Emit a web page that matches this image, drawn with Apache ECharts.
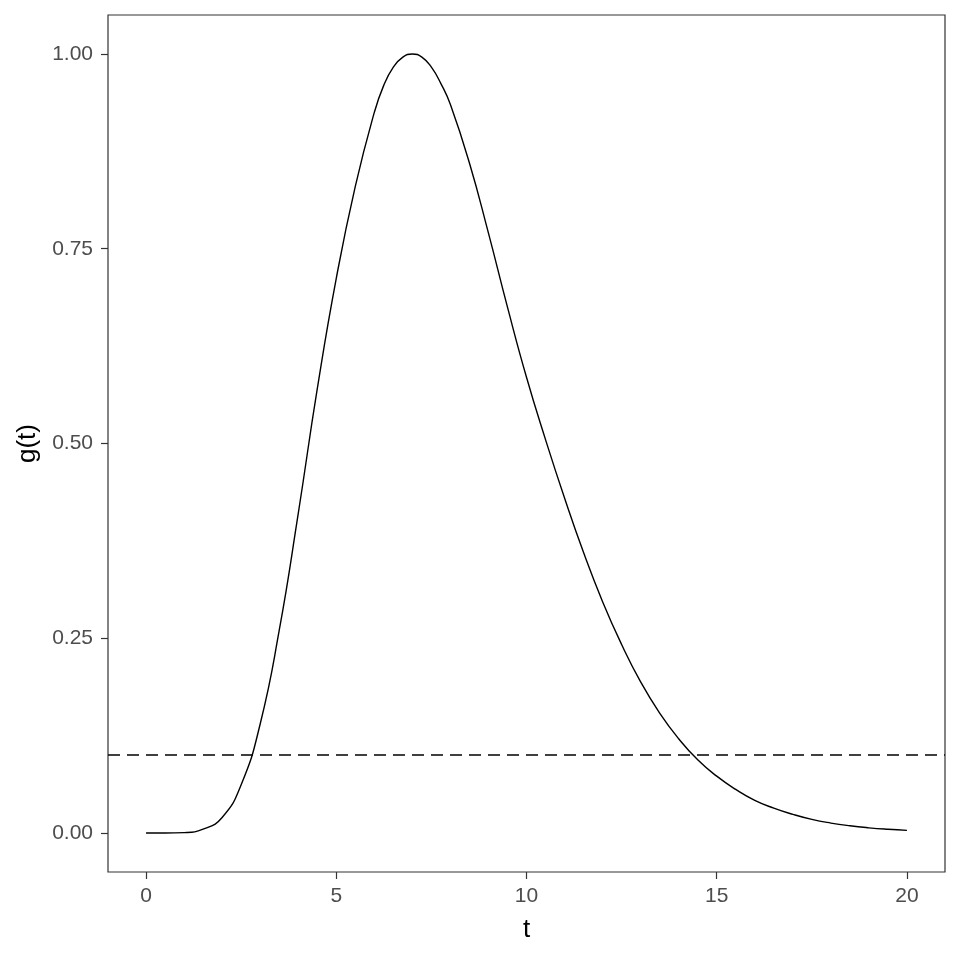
<!DOCTYPE html>
<html>
<head>
<meta charset="utf-8">
<title>g(t)</title>
<script src="https://cdn.jsdelivr.net/npm/echarts@6/dist/echarts.min.js"></script>
<style>
  html, body { margin: 0; padding: 0; background: #fff; }
  #chart { width: 960px; height: 960px; }
</style>
</head>
<body>
<div id="chart"></div>
<script>
// values
const tValues = [0, 0.5, 1, 1.5, 2, 2.5, 3, 3.5, 4, 4.5, 5, 5.5, 6, 6.25, 6.5, 6.75, 7, 7.25, 7.5, 7.75, 8, 8.5, 9, 9.5, 10,
  10.5, 11, 11.5, 12, 12.5, 13, 13.5, 14, 14.5, 15, 15.5, 16, 16.5, 17, 17.5, 18, 18.5, 19, 19.5, 20];
const gValues = [0, 0, 0.0005, 0.005, 0.02, 0.062, 0.14, 0.26, 0.41, 0.57, 0.712, 0.83, 0.925, 0.96, 0.983, 0.996, 1.0,
  0.996, 0.983, 0.962, 0.935, 0.86, 0.77, 0.675, 0.585, 0.505, 0.43, 0.36, 0.297, 0.242, 0.194, 0.154, 0.121, 0.094,
  0.073, 0.056, 0.042, 0.032, 0.024, 0.0175, 0.0128, 0.0093, 0.0067, 0.0048, 0.0034];
const threshold = 0.1;
const xTicks = [0, 5, 10, 15, 20];
const yTicks = [0, 0.25, 0.5, 0.75, 1];

const points = tValues.map((t, i) => [t, gValues[i]]);

const chart = echarts.init(document.getElementById('chart'));
const font = 'Liberation Sans, Arial, sans-serif';

chart.setOption({
  animation: false,
  grid: {
    left: 108, right: 15, top: 15, bottom: 88,
    show: true,
    borderColor: '#333333',
    borderWidth: 1.2,
    backgroundColor: '#ffffff'
  },
  xAxis: {
    type: 'value',
    min: -1,
    max: 21,
    name: 't',
    nameLocation: 'middle',
    nameGap: 45,
    nameTextStyle: { fontFamily: font, fontSize: 26, color: '#000' },
    axisLine: { show: false, onZero: false },
    axisTick: { show: true, length: 7, customValues: xTicks, lineStyle: { color: '#333333', width: 1.2 } },
    axisLabel: {
      customValues: xTicks,
      margin: 14,
      fontFamily: font, fontSize: 21, color: '#4d4d4d'
    },
    splitLine: { show: false }
  },
  yAxis: {
    type: 'value',
    min: -0.05,
    max: 1.05,
    name: 'g(t)',
    nameLocation: 'middle',
    nameGap: 64,
    nameRotate: 90,
    nameTextStyle: { fontFamily: font, fontSize: 26, color: '#000' },
    axisLine: { show: false, onZero: false },
    axisTick: { show: true, length: 7, customValues: yTicks, lineStyle: { color: '#333333', width: 1.2 } },
    axisLabel: {
      customValues: yTicks,
      margin: 15,
      formatter: v => v.toFixed(2),
      fontFamily: font, fontSize: 21, color: '#4d4d4d'
    },
    splitLine: { show: false }
  },
  series: [{
    type: 'line',
    data: points,
    smooth: 0.5,
    symbol: 'none',
    lineStyle: { color: '#000', width: 1.4 },
    markLine: {
      silent: true,
      symbol: 'none',
      label: { show: false },
      lineStyle: { color: '#000', width: 1.5, type: [12, 7] },
      data: [{ yAxis: threshold }]
    }
  }]
});
</script>
</body>
</html>
